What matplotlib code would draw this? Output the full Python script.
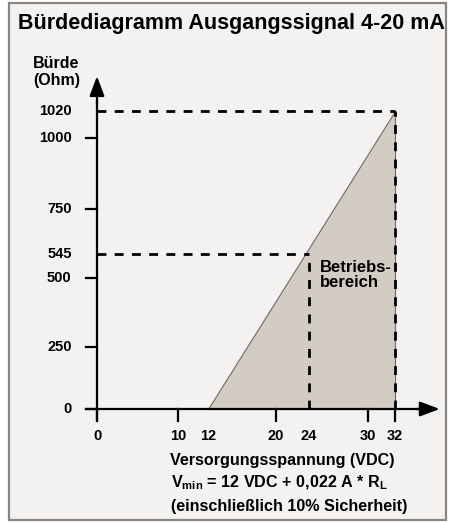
import numpy as np
import matplotlib.pyplot as plt
from matplotlib.patches import Rectangle, Polygon

plt.rcParams['font.family'] = ['Liberation Sans', 'DejaVu Sans']
plt.rcParams['mathtext.fontset'] = 'custom'
plt.rcParams['mathtext.bf'] = 'Liberation Sans:bold'
plt.rcParams['mathtext.rm'] = 'Liberation Sans:bold'

# data
v_start = 12
v_mid = 24
v_max = 32
r_mid = 545
r_max = 1020
x_ticks = [0, 10, 12, 20, 24, 30, 32]
y_ticks = [0, 250, 500, 545, 750, 1000, 1020]
y_marks = [0, 250, 500, 750, 1000]
x_marks = [0, 10, 20, 30, 32]

# schematic (non linear) scale of the original drawing, pixel positions
x_knots = [0, 10, 12, 20, 24, 30, 32]
x_pix = [97, 178, 208, 276, 309, 368, 395]
y_knots = [0, 250, 500, 545, 750, 1000, 1020]
y_pix = [409, 347, 278, 254, 209, 138, 111]

W, H = 449, 522
bg = '#f3f2f0'
fig = plt.figure(figsize=(W / 100, H / 100), dpi=100)
fig.patch.set_facecolor('white')
fig.patches.append(Rectangle((9 / W, 1 - 520 / H), 437 / W, 517 / H, transform=fig.transFigure,
                             facecolor=bg, edgecolor='#8a8580', lw=1.6, zorder=-5))

ax = fig.add_axes([97 / W, 1 - 409 / H, (395 - 97) / W, (409 - 111) / H])
ax.set_facecolor('none')

xp = (np.array(x_pix) - 97) / (395 - 97)
yp = (409 - np.array(y_pix)) / (409 - 111)
ax.set_xscale('function', functions=(lambda v: np.interp(v, x_knots, xp),
                                     lambda v: np.interp(v, xp, x_knots)))
ax.set_yscale('function', functions=(lambda v: np.interp(v, y_knots, yp),
                                     lambda v: np.interp(v, yp, y_knots)))
ax.set_xlim(0, 32)
ax.set_ylim(0, 1020)
for s in ax.spines.values():
    s.set_visible(False)
ax.set_xticks([])
ax.set_yticks([])

# operating area
ax.add_patch(Polygon([(v_start, 0), (v_max, 0), (v_max, r_max)], closed=True,
                     facecolor='#d3ccc4', edgecolor='#6e6a66', lw=0.8, zorder=1, clip_on=False))

dash = dict(color='black', lw=2.0, dashes=(3.2, 3.0), zorder=3, clip_on=False)
ax.plot([0, v_max], [r_max, r_max], **dash)
ax.plot([v_max, v_max], [0, r_max], **dash)
ax.plot([0, v_mid], [r_mid, r_mid], **dash)
ax.plot([v_mid, v_mid], [0, r_mid], **dash)

# axes with arrows (axes fraction coords)
ax.plot([0, 0], [-0.035, 1.03], color='black', lw=1.6, transform=ax.transAxes, clip_on=False, zorder=4)
ax.plot([-0.037, 1.08], [0, 0], color='black', lw=1.6, transform=ax.transAxes, clip_on=False, zorder=4)
head = '-|>,head_length=1.2,head_width=0.45'
ax.annotate('', xy=(0, 1.117), xytext=(0, 1.02), xycoords='axes fraction',
            arrowprops=dict(arrowstyle=head, color='black', lw=1.6, shrinkA=0, shrinkB=0),
            annotation_clip=False)
ax.annotate('', xy=(1.15, 0), xytext=(1.07, 0), xycoords='axes fraction',
            arrowprops=dict(arrowstyle=head, color='black', lw=1.6, shrinkA=0, shrinkB=0),
            annotation_clip=False)

# tick marks
for y in y_marks:
    ax.plot([-0.037, 0], [y, y], color='black', lw=1.6, transform=ax.get_yaxis_transform(), clip_on=False)
for x in x_marks:
    ax.plot([x, x], [0, -0.04], color='black', lw=1.6, transform=ax.get_xaxis_transform(), clip_on=False)

# tick labels
tk = dict(fontfamily=['Liberation Sans Narrow', 'Liberation Sans'], fontweight='bold', fontsize=10.5)
for y in y_ticks:
    ax.text(-0.085, y, str(y), transform=ax.get_yaxis_transform(), ha='right', va='center', **tk)
for x in x_ticks:
    ax.text(x, -0.092, str(x), transform=ax.get_xaxis_transform(), ha='center', va='center', **tk)

ax.text(25.1, 533, 'Betriebs-\nbereich', fontsize=12, fontweight='bold', ha='left', va='top',
        linespacing=1.0)

fig.text(18 / W, 1 - 24 / H, 'Bürdediagramm Ausgangssignal 4-20 mA', fontsize=15.5,
         fontweight='bold', ha='left', va='center')
fig.text(33 / W, 1 - 72 / H, 'Bürde\n(Ohm)', fontsize=11.5, fontweight='bold', ha='left', va='center',
         linespacing=1.1)
fig.text(282 / W, 1 - 460 / H, 'Versorgungsspannung (VDC)', fontsize=11.6, fontweight='bold',
         ha='center', va='center')
fig.text(171 / W, 1 - 483 / H, r'V$_{\mathbf{min}}$ = 12 VDC + 0,022 A * R$_{\mathbf{L}}$', fontsize=11.6,
         fontweight='bold', ha='left', va='center')
fig.text(171 / W, 1 - 506 / H, '(einschließlich 10% Sicherheit)', fontsize=11.6, fontweight='bold',
         ha='left', va='center')

fig.savefig('out.png', dpi=100, facecolor=fig.get_facecolor())
